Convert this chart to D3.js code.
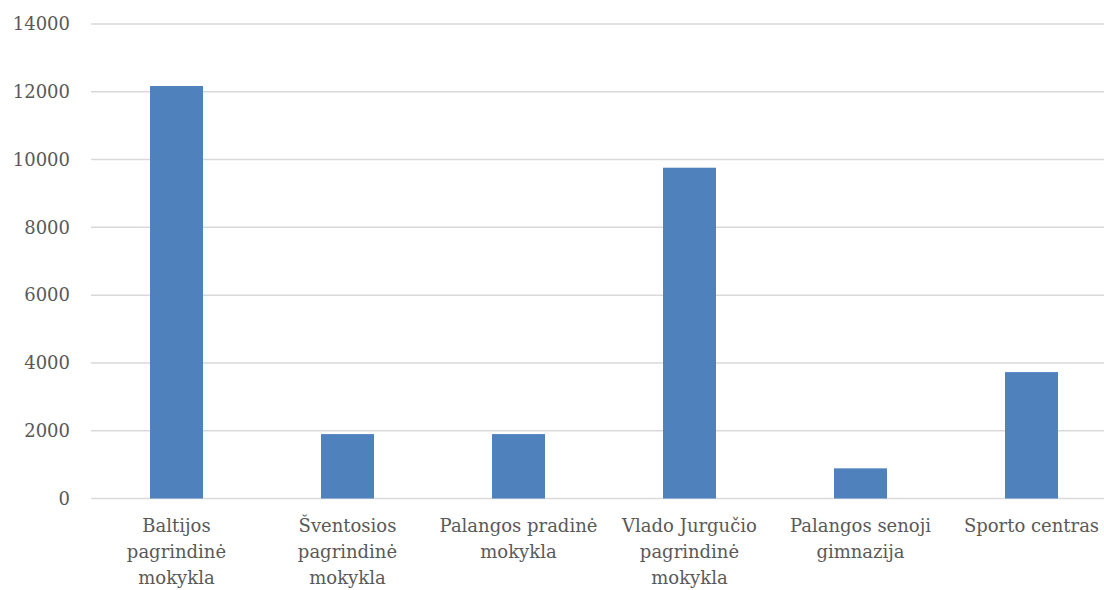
<!DOCTYPE html>
<html>
<head>
<meta charset="utf-8">
<script src="https://cdn.jsdelivr.net/npm/d3@7"></script>
<style>
  html, body { margin: 0; padding: 0; background: #fff; }
  svg { display: block; }
</style>
</head>
<body>
<svg id="chart" width="1104" height="590"></svg>
<script>
const categories = [
  "Baltijos pagrindinė mokykla",
  "Šventosios pagrindinė mokykla",
  "Palangos pradinė mokykla",
  "Vlado Jurgučio pagrindinė mokykla",
  "Palangos senoji gimnazija",
  "Sporto centras"
];
const categoryLines = [
  ["Baltijos", "pagrindinė", "mokykla"],
  ["Šventosios", "pagrindinė", "mokykla"],
  ["Palangos pradinė", "mokykla"],
  ["Vlado Jurgučio", "pagrindinė", "mokykla"],
  ["Palangos senoji", "gimnazija"],
  ["Sporto centras"]
];
const values = [12170, 1900, 1900, 9760, 890, 3730];
const yTicks = [0, 2000, 4000, 6000, 8000, 10000, 12000, 14000];

const FONT = "DejaVu Serif";
const FS = "18px";

const svg = d3.select("#chart");
const x = d3.scaleBand().domain(categories).range([91, 1117]).paddingInner(0.69).paddingOuter(0.345);
const y = d3.scaleLinear().domain([0, 14000]).range([498.5, 24]);

// gridlines
svg.append("g").selectAll("line").data(yTicks).join("line")
  .attr("x1", 91).attr("x2", 1104)
  .attr("y1", d => y(d)).attr("y2", d => y(d))
  .attr("stroke", "#d9d9d9").attr("stroke-width", 1.5);

// y axis labels
const yAxis = d3.axisLeft(y).tickValues(yTicks).tickSize(0).tickPadding(0).tickFormat(d3.format("d"));
const yg = svg.append("g").attr("transform", "translate(70,0)").call(yAxis);
yg.select(".domain").remove();
yg.selectAll("text").style("font-family", FONT).style("font-size", FS).style("fill", "#595959");

// bars
svg.append("g").selectAll("rect").data(values).join("rect")
  .attr("x", (d, i) => x(categories[i]))
  .attr("width", x.bandwidth())
  .attr("y", d => y(d))
  .attr("height", d => y(0) - y(d))
  .attr("fill", "#4F81BD");

// category labels
const lg = svg.append("g");
categories.forEach((c, i) => {
  const t = lg.append("text")
    .attr("text-anchor", "middle")
    .style("font-family", FONT)
    .style("font-size", FS)
    .style("fill", "#595959")
    .attr("x", x(c) + x.bandwidth() / 2)
    .attr("y", 532);
  categoryLines[i].forEach((line, j) => {
    t.append("tspan").attr("x", x(c) + x.bandwidth() / 2).attr("dy", j === 0 ? 0 : 26).text(line);
  });
});
</script>
</body>
</html>
